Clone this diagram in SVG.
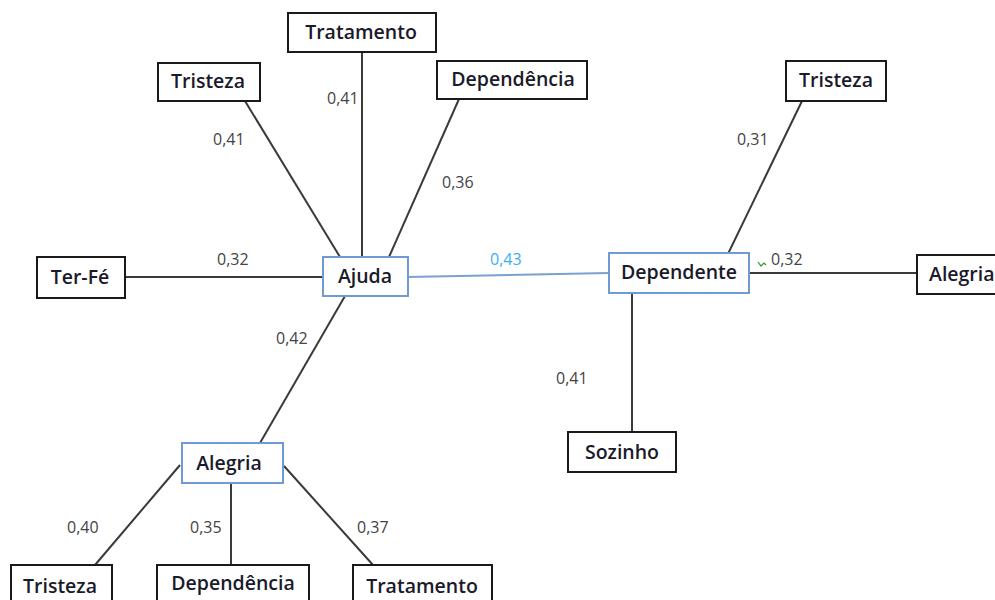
<svg xmlns="http://www.w3.org/2000/svg" width="995" height="600" viewBox="0 0 995 600">
  <style>
    .box { fill: #ffffff; stroke: #1a1a1a; stroke-width: 2; }
    .hub { fill: #ffffff; stroke: #6f9bd2; stroke-width: 2; }
    .lbl { font-family: "Open Sans", "Liberation Sans", sans-serif; font-size: 19.5px; font-weight: 600; fill: #1a1a2a; text-anchor: middle; }
    .w { font-family: "Open Sans", "Liberation Sans", sans-serif; font-size: 16px; fill: #444444; }
    .edge { stroke: #3a3a3a; stroke-width: 2; fill: none; }
  </style>
  <rect width="995" height="600" fill="#ffffff"/>

  <g id="connectors">
    <line class="edge" x1="362" y1="52" x2="362" y2="257"/>
    <line class="edge" x1="245" y1="101" x2="340" y2="257"/>
    <line class="edge" x1="459" y1="99" x2="389" y2="257"/>
    <line class="edge" x1="125" y1="277" x2="323" y2="277"/>
    <line class="edge" x1="345" y1="296" x2="260" y2="443"/>
    <line x1="408" y1="277" x2="609" y2="273" stroke="#7aa0d0" stroke-width="2"/>
    <line class="edge" x1="802" y1="101" x2="726" y2="258"/>
    <line class="edge" x1="749" y1="273" x2="917" y2="273"/>
    <line class="edge" x1="632" y1="293" x2="632" y2="432"/>
    <line class="edge" x1="180" y1="465" x2="95" y2="565"/>
    <line class="edge" x1="231" y1="483" x2="231" y2="565"/>
    <line class="edge" x1="284" y1="466" x2="373" y2="565"/>
  </g>

  <g id="weights">
    <text class="w" x="327" y="104">0,41</text>
    <text class="w" x="213" y="145">0,41</text>
    <text class="w" x="442" y="188">0,36</text>
    <text class="w" x="217" y="265">0,32</text>
    <text class="w" x="490" y="265" style="fill:#3bb0f0">0,43</text>
    <text class="w" x="276" y="344">0,42</text>
    <text class="w" x="737" y="145">0,31</text>
    <path d="M758 262 l3 4 l3 -3 l2 2" stroke="#2a9a2a" stroke-width="1.2" fill="none"/>
    <text class="w" x="771" y="265">0,32</text>
    <text class="w" x="556" y="384">0,41</text>
    <text class="w" x="67" y="533">0,40</text>
    <text class="w" x="190" y="533">0,35</text>
    <text class="w" x="357" y="533">0,37</text>
  </g>

  <g id="n-tratamento-top"><rect class="box" x="288" y="13" width="148" height="39"/><text class="lbl" x="361" y="39">Tratamento</text></g>
  <g id="n-tristeza-top"><rect class="box" x="158" y="63" width="102" height="38"/><text class="lbl" x="208" y="88">Tristeza</text></g>
  <g id="n-dependencia-top"><rect class="box" x="437" y="61" width="150" height="38"/><text class="lbl" x="513" y="86">Dependência</text></g>
  <g id="n-terfe"><rect class="box" x="37" y="257" width="88" height="41"/><text class="lbl" x="80" y="284">Ter-Fé</text></g>
  <g id="n-ajuda"><rect class="hub" x="323" y="257" width="85" height="39"/><text class="lbl" x="365" y="283">Ajuda</text></g>
  <g id="n-dependente"><rect class="hub" x="609" y="253" width="140" height="40"/><text class="lbl" x="679" y="279">Dependente</text></g>
  <g id="n-tristeza-right"><rect class="box" x="786" y="61" width="100" height="40"/><text class="lbl" x="836" y="87">Tristeza</text></g>
  <g id="n-alegria-right"><rect class="box" x="917" y="255" width="90" height="39"/><text class="lbl" x="929" y="281" style="text-anchor:start">Alegria</text></g>
  <g id="n-sozinho"><rect class="box" x="568" y="432" width="108" height="40"/><text class="lbl" x="622" y="459">Sozinho</text></g>
  <g id="n-alegria-bottom"><rect class="hub" x="182" y="443" width="101" height="40"/><text class="lbl" x="229" y="470">Alegria</text></g>
  <g id="n-tristeza-bottom"><rect class="box" x="11" y="565" width="101" height="40"/><text class="lbl" x="60" y="593">Tristeza</text></g>
  <g id="n-dependencia-bottom"><rect class="box" x="157" y="565" width="152" height="40"/><text class="lbl" x="233" y="590">Dependência</text></g>
  <g id="n-tratamento-bottom"><rect class="box" x="353" y="565" width="139" height="40"/><text class="lbl" x="422" y="593">Tratamento</text></g>
</svg>
